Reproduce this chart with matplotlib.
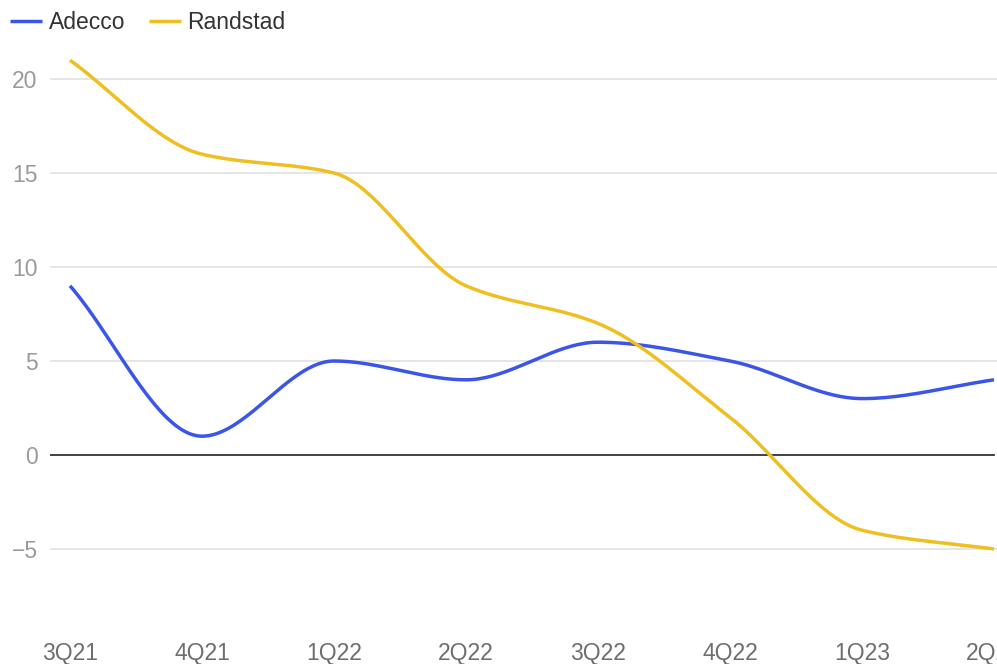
import numpy as np
import matplotlib
matplotlib.use("Agg")
import matplotlib.pyplot as plt

quarters = ["3Q21", "4Q21", "1Q22", "2Q22", "3Q22", "4Q22", "1Q23", "2Q23"]
adecco = [9, 1, 5, 4, 6, 5, 3, 4]
randstad = [21, 16, 15, 9, 7, 2, -4, -5]
y_ticks = [-5, 0, 5, 10, 15, 20]


def monotone_curve(y, n=40):
    # Fritsch-Carlson monotone cubic, like d3 curveMonotoneX
    y = np.asarray(y, dtype=float)
    x = np.arange(len(y), dtype=float)
    d = np.diff(y)
    m = np.zeros(len(y))
    m[0], m[-1] = d[0], d[-1]
    for i in range(1, len(y) - 1):
        if d[i - 1] * d[i] <= 0:
            m[i] = 0
        else:
            m[i] = 2 / (1 / d[i - 1] + 1 / d[i])
    xs, ys = [], []
    for i in range(len(y) - 1):
        t = np.linspace(0, 1, n, endpoint=(i == len(y) - 2))
        h00 = 2 * t**3 - 3 * t**2 + 1
        h10 = t**3 - 2 * t**2 + t
        h01 = -2 * t**3 + 3 * t**2
        h11 = t**3 - t**2
        xs.append(x[i] + t)
        ys.append(h00 * y[i] + h10 * m[i] + h01 * y[i + 1] + h11 * m[i + 1])
    return np.concatenate(xs), np.concatenate(ys)


plt.rcParams["font.family"] = ["Liberation Sans", "DejaVu Sans"]

fig = plt.figure(figsize=(9.97, 6.64), dpi=100)
W, H = 997, 664
ax = fig.add_axes([50 / W, 1 - 625 / H, (997 - 50) / W, (625 - 40) / H])

px = 132.0
ax.set_xlim(-20 / px, 7 + 3 / px)
ax.set_ylim(-(625 - 455) / 18.8, (455 - 40) / 18.8)

for v in y_ticks:
    if v == 0:
        ax.plot([-20 / px, 7], [0, 0], color="#333333", lw=1.3, zorder=2)
    else:
        ax.axhline(v, color="#e3e3e3", lw=1.3, zorder=1)

x_pos = np.arange(len(quarters))
xa, ya = monotone_curve(adecco)
xr, yr = monotone_curve(randstad)
ax.plot(xa, ya, color="#3a55e8", lw=2.5, label="Adecco", zorder=3,
        solid_capstyle="butt")
ax.plot(xr, yr, color="#efbf22", lw=2.5, label="Randstad", zorder=3,
        solid_capstyle="butt")

ax.set_yticks(y_ticks)
ax.set_yticklabels([f"{v}".replace("-", "\u2212") for v in y_ticks])
ax.set_xticks(x_pos)
ax.set_xticklabels(quarters)
ax.tick_params(axis="y", length=0, pad=9, labelsize=16.5, labelcolor="#9a9a9a")
ax.tick_params(axis="x", length=0, pad=12, labelsize=16.5, labelcolor="#6e6e6e")
for s in ax.spines.values():
    s.set_visible(False)

leg = fig.legend(loc="upper left", bbox_to_anchor=(1 / W, 1 - 2 / H), ncol=2,
                 frameon=False, fontsize=16.5, handlelength=1.4,
                 handletextpad=0.3, columnspacing=1.0, borderaxespad=0)
for t in leg.get_texts():
    t.set_color("#333333")

fig.savefig("out.png", dpi=100)
